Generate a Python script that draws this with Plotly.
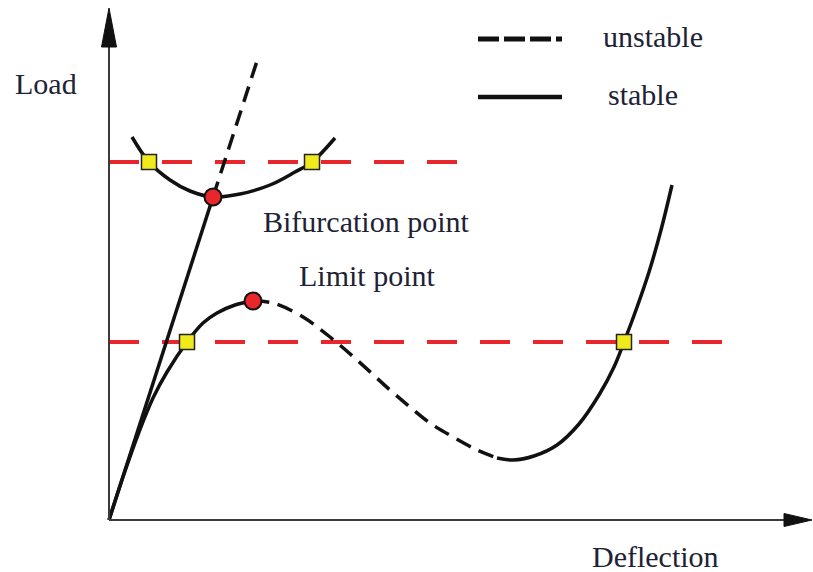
import plotly.graph_objects as go

# Load–deflection diagram: bifurcation vs. limit-point instability.
# Coordinates are in drawing units, origin at the axes corner.

# primary (fundamental) path of the perfect structure
primary_stable_x = [0, 104]
primary_stable_y = [0, 323]
primary_unstable_x = [104, 149]
primary_unstable_y = [323, 462]

# secondary (post-buckling) branch through the bifurcation point
branch_x = [23, 40, 61, 81, 104, 131, 161, 186, 203, 226]
branch_y = [383, 358, 340, 329, 323, 326, 335, 348, 358, 382]

# limit-point path: stable rise, unstable softening, stable re-stiffening
limit_rise_x = [0, 15, 30, 44, 58, 78, 94, 108, 126, 144]
limit_rise_y = [0, 46, 88, 122, 148, 178, 197, 207, 215, 219]
limit_drop_x = [144, 164, 194, 221, 248, 281, 301, 321, 344, 368, 388]
limit_drop_y = [219, 217, 203, 183, 160, 130, 113, 97, 83, 70, 62]
limit_stiff_x = [388, 404, 425, 448, 470, 490, 505, 515, 527, 540, 552, 563]
limit_stiff_y = [62, 60, 64, 75, 96, 125, 153, 178, 210, 248, 290, 335]

# critical points
crit_x = [104, 144]
crit_y = [323, 219]

# applied load levels and their equilibrium states
load_upper = 358
load_upper_end = 351
load_lower = 178
load_lower_end = 613
state_x = [40, 203, 78, 515]
state_y = [358, 358, 178, 178]

BLACK = "#111111"
RED = "#e8262c"
YELLOW = "#f0ea1c"
TEXT = "#1d2236"
FONT = "Liberation Serif"

fig = go.Figure()


def curve(x, y, dash="solid", width=3.5):
    fig.add_trace(go.Scatter(
        x=x, y=y, mode="lines",
        line=dict(color=BLACK, width=width, dash=dash, shape="spline"),
        hoverinfo="skip", showlegend=False))


# load levels (behind the curves)
for lvl, end in ((load_upper, load_upper_end), (load_lower, load_lower_end)):
    fig.add_trace(go.Scatter(
        x=[0, end], y=[lvl, lvl], mode="lines",
        line=dict(color=RED, width=4, dash="30px,23px"),
        hoverinfo="skip", showlegend=False))

UNSTABLE = "16px,9px"
curve(primary_stable_x, primary_stable_y)
curve(primary_unstable_x, primary_unstable_y, dash=UNSTABLE)
curve(branch_x, branch_y)
curve(limit_rise_x, limit_rise_y)
curve(limit_drop_x, limit_drop_y, dash=UNSTABLE)
curve(limit_stiff_x, limit_stiff_y)

# equilibrium states at the applied loads
fig.add_trace(go.Scatter(
    x=state_x, y=state_y, mode="markers",
    marker=dict(symbol="square", size=15, color=YELLOW,
                line=dict(color="#222222", width=1.5)),
    hoverinfo="skip", showlegend=False))

# bifurcation and limit points
fig.add_trace(go.Scatter(
    x=crit_x, y=crit_y, mode="markers",
    marker=dict(symbol="circle", size=17, color=RED,
                line=dict(color="#111111", width=2)),
    hoverinfo="skip", showlegend=False))

# key for line styles
key_x = [369, 453]
fig.add_trace(go.Scatter(
    x=key_x, y=[481, 481], mode="lines",
    line=dict(color=BLACK, width=5, dash="21px,5px"),
    hoverinfo="skip", showlegend=False))
fig.add_trace(go.Scatter(
    x=key_x, y=[423, 423], mode="lines",
    line=dict(color=BLACK, width=4.5),
    hoverinfo="skip", showlegend=False))

# axes with arrowheads
AX = "#3a3a3a"
shapes = [
    dict(type="line", x0=0, y0=0, x1=0, y1=478, line=dict(color=AX, width=2)),
    dict(type="line", x0=0, y0=0, x1=678, y1=0, line=dict(color=AX, width=2)),
    dict(type="path", path="M -7.5 473 L 0 512 L 7.5 473 Z",
         fillcolor="#111111", line=dict(color="#111111", width=1)),
    dict(type="path", path="M 675 -6.5 L 703 0 L 675 6.5 Z",
         fillcolor="#111111", line=dict(color="#111111", width=1)),
]


def label(text, x, y):
    return dict(text=text, x=x, y=y, xref="x", yref="y", showarrow=False,
                xanchor="center", yanchor="middle",
                font=dict(family=FONT, size=30, color=TEXT))


annotations = [
    label("Load", -63, 437),
    label("Deflection", 546, -36),
    label("Bifurcation point", 257, 299),
    label("Limit point", 258, 245),
    label("unstable", 544, 484),
    label("stable", 534, 426),
]

fig.update_layout(
    width=813, height=572, autosize=False,
    margin=dict(l=0, r=0, t=0, b=0),
    paper_bgcolor="white", plot_bgcolor="white",
    xaxis=dict(range=[-109, 704], visible=False, fixedrange=True),
    yaxis=dict(range=[-52, 520], visible=False, fixedrange=True),
    shapes=shapes, annotations=annotations,
)

fig.write_html("out.html")
